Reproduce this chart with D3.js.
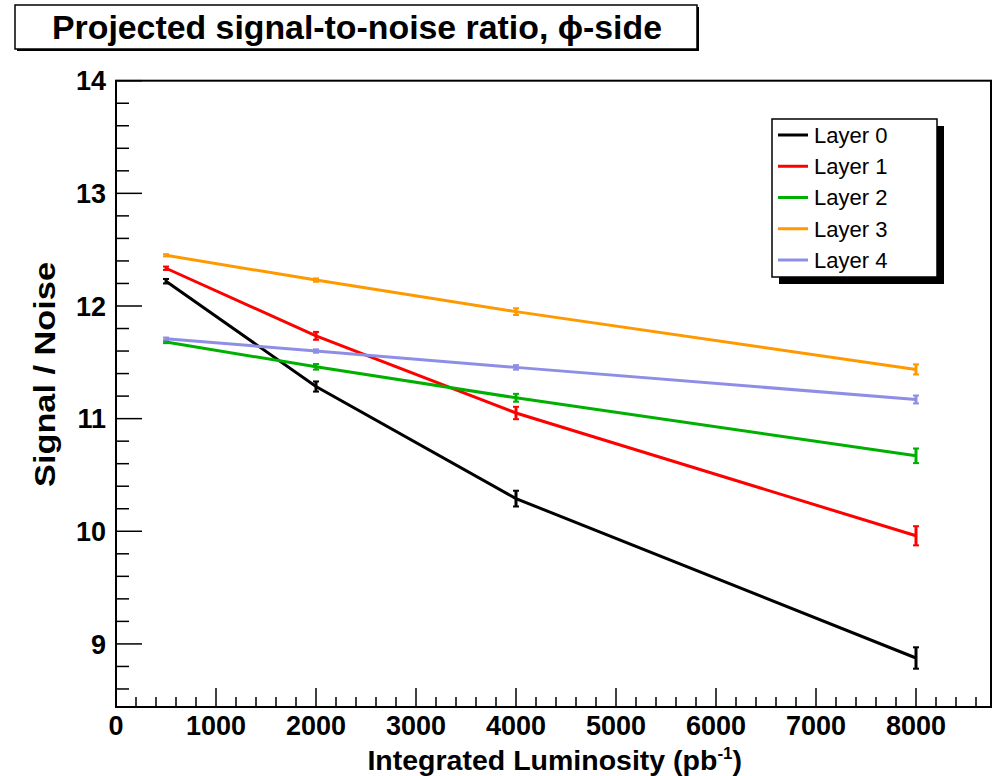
<!DOCTYPE html>
<html>
<head>
<meta charset="utf-8">
<script src="https://cdn.jsdelivr.net/npm/d3@7"></script>
<style>
  body { margin: 0; background: #fff; }
  svg { display: block; font-family: "Liberation Sans", Arial, Helvetica, sans-serif; }
</style>
</head>
<body>
<div id="chart"></div>
<script>
// Integrated luminosity points (pb^-1)
const lumi = [500, 2000, 4000, 8000];

const layerNames = ["Layer 0", "Layer 1", "Layer 2", "Layer 3", "Layer 4"];
const layerColors = ["#000000", "#ff0000", "#00b000", "#ff9900", "#8e8ee6"];

// signal / noise per layer
const layer0 = [12.22, 11.285, 10.29, 8.875];
const layer1 = [12.335, 11.735, 11.05, 9.96];
const layer2 = [11.68, 11.46, 11.185, 10.67];
const layer3 = [12.45, 12.23, 11.95, 11.437];
const layer4 = [11.71, 11.60, 11.455, 11.17];

// error bars
const err0 = [0.02, 0.045, 0.07, 0.095];
const err1 = [0.015, 0.035, 0.055, 0.085];
const err2 = [0.01, 0.025, 0.035, 0.065];
const err3 = [0.01, 0.015, 0.03, 0.045];
const err4 = [0.01, 0.015, 0.02, 0.035];

const xMajor = d3.range(0, 8001, 1000);
const xMinor = d3.range(0, 8701, 200);
const yMajor = [9, 10, 11, 12, 13, 14];
const yMinor = d3.range(8.6, 14.0, 0.2);

const width = 993, height = 776;
const frame = { left: 116, right: 991, top: 80.7, bottom: 707 };

const svg = d3.select("#chart").append("svg")
  .attr("width", width)
  .attr("height", height);

const x = d3.scaleLinear().domain([0, 8750]).range([frame.left, frame.right]);
const y = d3.scaleLinear().domain([8.44, 14]).range([frame.bottom, frame.top]);

// frame
svg.append("rect")
  .attr("x", frame.left).attr("y", frame.top)
  .attr("width", frame.right - frame.left)
  .attr("height", frame.bottom - frame.top)
  .attr("fill", "none").attr("stroke", "#000").attr("stroke-width", 2);

// x ticks (drawn inward, ROOT style)
const xAxis = svg.append("g").attr("class", "x-axis");
xAxis.selectAll(".minor").data(xMinor.filter(v => v % 1000 !== 0)).enter()
  .append("line")
  .attr("x1", d => x(d)).attr("x2", d => x(d))
  .attr("y1", frame.bottom).attr("y2", frame.bottom - 10)
  .attr("stroke", "#000").attr("stroke-width", 1.5);
xAxis.selectAll(".major").data(xMajor).enter()
  .append("line")
  .attr("x1", d => x(d)).attr("x2", d => x(d))
  .attr("y1", frame.bottom).attr("y2", frame.bottom - 19)
  .attr("stroke", "#000").attr("stroke-width", 1.5);
xAxis.selectAll("text").data(xMajor).enter()
  .append("text")
  .attr("x", d => x(d)).attr("y", 735)
  .attr("text-anchor", "middle")
  .attr("font-size", 27).attr("font-weight", "bold")
  .text(d => d);

// y ticks
const yAxis = svg.append("g").attr("class", "y-axis");
yAxis.selectAll(".minor").data(yMinor.filter(v => Math.abs(v - Math.round(v)) > 0.01)).enter()
  .append("line")
  .attr("x1", frame.left).attr("x2", frame.left + 13)
  .attr("y1", d => y(d)).attr("y2", d => y(d))
  .attr("stroke", "#000").attr("stroke-width", 1.5);
yAxis.selectAll(".major").data(yMajor).enter()
  .append("line")
  .attr("x1", frame.left).attr("x2", frame.left + 26)
  .attr("y1", d => y(d)).attr("y2", d => y(d))
  .attr("stroke", "#000").attr("stroke-width", 1.5);
yAxis.selectAll("text").data(yMajor).enter()
  .append("text")
  .attr("x", 106).attr("y", d => y(d))
  .attr("dy", "0.36em")
  .attr("text-anchor", "end")
  .attr("font-size", 27).attr("font-weight", "bold")
  .text(d => d);

// axis titles
const xt = svg.append("text")
  .attr("x", 742).attr("y", 770)
  .attr("text-anchor", "end")
  .attr("font-size", 28.5).attr("font-weight", "bold");
xt.append("tspan").text("Integrated Luminosity (pb");
xt.append("tspan").attr("font-size", 17).attr("dy", -11).text("-1");
xt.append("tspan").attr("dy", 11).text(")");

svg.append("text")
  .attr("transform", "translate(55,262) rotate(-90)")
  .attr("text-anchor", "end")
  .attr("font-size", 30).attr("font-weight", "bold")
  .attr("textLength", 225).attr("lengthAdjust", "spacingAndGlyphs")
  .text("Signal / Noise");

// series
const series = [layer0, layer1, layer2, layer3, layer4].map((vals, i) => ({
  name: layerNames[i],
  color: layerColors[i],
  points: vals.map((v, j) => ({ x: lumi[j], y: v, e: [err0, err1, err2, err3, err4][i][j] }))
}));

const line = d3.line().x(d => x(d.x)).y(d => y(d.y));
const plot = svg.append("g").attr("class", "series");

series.forEach(s => {
  const g = plot.append("g");
  g.append("path")
    .attr("d", line(s.points))
    .attr("fill", "none")
    .attr("stroke", s.color)
    .attr("stroke-width", 3);
  // error bars with caps
  g.selectAll(".err").data(s.points).enter()
    .append("line")
    .attr("x1", d => x(d.x)).attr("x2", d => x(d.x))
    .attr("y1", d => y(d.y - d.e)).attr("y2", d => y(d.y + d.e))
    .attr("stroke", s.color).attr("stroke-width", 3);
  ["lo", "hi"].forEach(k => {
    g.selectAll(".cap-" + k).data(s.points).enter()
      .append("line")
      .attr("x1", d => x(d.x) - 3).attr("x2", d => x(d.x) + 3)
      .attr("y1", d => y(k === "lo" ? d.y - d.e : d.y + d.e))
      .attr("y2", d => y(k === "lo" ? d.y - d.e : d.y + d.e))
      .attr("stroke", s.color).attr("stroke-width", 2);
  });
});

// legend with shadow
const leg = { x: 772, y: 119, w: 165, h: 158, shadow: 7 };
svg.append("rect")
  .attr("x", leg.x + leg.shadow).attr("y", leg.y + leg.shadow)
  .attr("width", leg.w).attr("height", leg.h)
  .attr("fill", "#000");
svg.append("rect")
  .attr("x", leg.x).attr("y", leg.y)
  .attr("width", leg.w).attr("height", leg.h)
  .attr("fill", "#fff").attr("stroke", "#000").attr("stroke-width", 1.5);

const rowY = d3.scalePoint().domain(layerNames).range([135, 260]);
const rows = svg.append("g").selectAll("g").data(series).enter().append("g");
rows.append("line")
  .attr("x1", 778).attr("x2", 808)
  .attr("y1", d => rowY(d.name)).attr("y2", d => rowY(d.name))
  .attr("stroke", d => d.color).attr("stroke-width", 3);
rows.append("text")
  .attr("x", 814).attr("y", d => rowY(d.name))
  .attr("dy", "0.36em")
  .attr("font-size", 22)
  .text(d => d.name);

// title box
svg.append("rect")
  .attr("x", 17).attr("y", 7).attr("width", 682).attr("height", 44)
  .attr("fill", "#000");
svg.append("rect")
  .attr("x", 15).attr("y", 5).attr("width", 682).attr("height", 44)
  .attr("fill", "#fff").attr("stroke", "#000").attr("stroke-width", 1.5);
svg.append("text")
  .attr("x", 357).attr("y", 39)
  .attr("text-anchor", "middle")
  .attr("font-size", 34).attr("font-weight", "bold")
  .attr("textLength", 610).attr("lengthAdjust", "spacingAndGlyphs")
  .text("Projected signal-to-noise ratio, \u03d5-side");
</script>
</body>
</html>
